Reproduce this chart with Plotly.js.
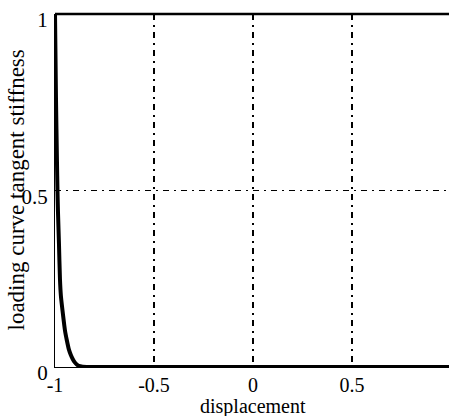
<!DOCTYPE html>
<html>
<head>
<meta charset="utf-8">
<script src="https://cdn.plot.ly/plotly-3.0.1.min.js"></script>
<style>html,body{margin:0;padding:0;overflow:hidden;background:#fff;}#chart{width:455px;height:416px;}</style>
</head>
<body>
<div id="chart"></div>
<script>
var displacement = [-1, -0.995, -0.99, -0.9875, -0.985, -0.98, -0.975, -0.97, -0.96, -0.95, -0.94, -0.93, -0.92, -0.91, -0.9, -0.89, -0.88, -0.86, -0.8, -0.5, 0, 0.5, 1];
var stiffness = [1, 0.76, 0.58, 0.5, 0.44, 0.35, 0.25, 0.2, 0.15, 0.105, 0.075, 0.05, 0.034, 0.022, 0.013, 0.007, 0.003, 0.001, 0, 0, 0, 0, 0];
var xTicks = [-1, -0.5, 0, 0.5, 1];
var xTickLabels = ['-1', '-0.5', '0', '0.5', '1'];
var yTicks = [0, 0.5, 1];
var yTickLabels = ['0', '0.5', '1'];

var font = '"Liberation Serif", "Times New Roman", serif';
var data = [{
  x: displacement, y: stiffness, type: 'scatter', mode: 'lines',
  line: {color: '#000', width: 4, shape: 'spline', smoothing: 0.6},
  cliponaxis: false, hoverinfo: 'skip'
}];
var layout = {
  width: 455, height: 416,
  margin: {l: 55, r: 4, t: 14, b: 49},
  paper_bgcolor: '#fff', plot_bgcolor: '#fff',
  showlegend: false,
  font: {family: font, color: '#000', size: 21},
  xaxis: {
    range: [-1, 1], tickvals: xTicks, ticktext: xTickLabels,
    showgrid: true, gridcolor: '#000', gridwidth: 1.6, griddash: '6px,5px,2px,5px',
    zeroline: false, showline: true, linecolor: '#000', linewidth: 1,
    ticks: '', tickfont: {family: font, size: 20, color: '#000'},
    ticklabelstandoff: 0,
    automargin: false, fixedrange: true
  },
  yaxis: {
    range: [0, 1], tickvals: yTicks, ticktext: yTickLabels,
    showgrid: true, gridcolor: '#000', gridwidth: 1.6, griddash: '6px,5px,2px,5px',
    zeroline: false, showline: true, linecolor: '#000', linewidth: 1,
    ticks: '', tickfont: {family: font, size: 21, color: '#000'},
    ticklabelshift: 6, ticklabelstandoff: 2, ticklabeloverflow: 'allow',
    automargin: false, fixedrange: true
  },
  annotations: [{
    text: 'displacement', xref: 'paper', yref: 'paper', x: 0.5, y: 0,
    xanchor: 'center', yanchor: 'top', yshift: -27, showarrow: false,
    font: {family: font, size: 20, color: '#000'}, borderpad: 0
  }, {
    text: 'loading curve tangent stiffness', xref: 'paper', yref: 'paper', x: 0, y: 0.5,
    xanchor: 'center', yanchor: 'middle', xshift: -39, textangle: -90, showarrow: false,
    font: {family: font, size: 23, color: '#000'}, borderpad: 0
  }],
  shapes: [{type: 'line', xref: 'paper', yref: 'paper', x0: 0, x1: 1, y0: 1, y1: 1, line: {color: '#000', width: 2.5}}]
};
Plotly.newPlot('chart', data, layout, {displayModeBar: false, staticPlot: true});
</script>
</body>
</html>
